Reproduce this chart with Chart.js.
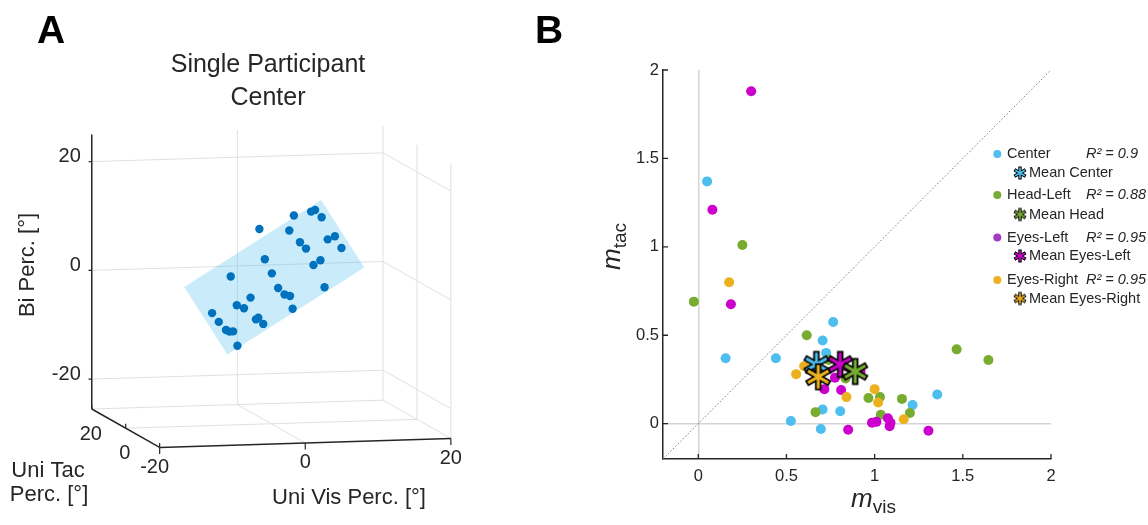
<!DOCTYPE html>
<html>
<head>
<meta charset="utf-8">
<script src="https://cdn.jsdelivr.net/npm/chart.js@4.4.1/dist/chart.umd.min.js"></script>
<style>
  body { margin: 0; background: #fff; width: 1148px; height: 525px; overflow: hidden; position: relative; }
  canvas { position: absolute; top: 0; }
  #chartA { left: 0; }
  #chartB { left: 520px; }
</style>
</head>
<body>
<canvas id="chartA" width="520" height="525"></canvas>
<canvas id="chartB" width="628" height="525"></canvas>
<script>
const FONT = '"Liberation Sans", Arial, sans-serif';
Chart.defaults.font.family = FONT;
Chart.defaults.color = '#262626';

// ---------- panel A data (single participant, center) ----------
const visLim = [-20, 20], tacLim = [-20, 20], biLim = [-25.5, 25];
const visTicks = [-20, 0, 20], tacTicks = [-20, 0, 20], biTicks = [-20, 0, 20];

const visVals = [2.0, 6.2, 8.1, 8.6, 8.8, 4.8, 5.1, 5.3, 8.0, 8.9, 8.8, 6.0, 5.0, 0.6, 0.4, -3.8, 0.1,
                 0.3, 0.8, 4.7, 0.2, -3.2, -5.0, -4.5, -7.9, -7.8, -7.6, -7.4, -7.0, -4.0, -3.7, -3.6, -7.5];
const tacVals = [15.6, 13.3, 11.3, 11.1, 8.1, 10.0, 5.0, 2.3, 1.1, 0.7, -3.6, -3.2, -3.4, 6.4, 1.4, 7.6, -3.6,
                 -6.5, -7.6, -11.2, -11.7, -1.5, -1.1, -3.2, 1.0, -2.5, -5.9, -7.1, -7.5, -8.1, -8.2, -10.7, -12.2];
const biVals  = [7.5, 10.2, 11.2, 11.5, 10.7, 8.1, 6.8, 6.1, 7.9, 8.5, 7.1, 4.9, 4.1, 3.6, 1.9, 0.4, 0.1,
                 -0.6, -0.7, 1.4, -2.3, -1.9, -3.3, -3.5, -5.0, -6.0, -6.9, -7.0, -6.9, -4.7, -4.4, -5.1, -8.7];

// fitted plane bi = b0 + bVis*vis + bTac*tac over the data range
const planeVis = [-9.0, 9.8], planeTac = [-12.75, 12.75];
const planeCoef = [1.1, 0.81, 0.31];

// ---------- panel B data (slopes per participant) ----------
const groups = ['Center', 'Head-Left', 'Eyes-Left', 'Eyes-Right'];
const meanNames = ['Mean Center', 'Mean Head', 'Mean Eyes-Left', 'Mean Eyes-Right'];
const rSquared = ['0.9', '0.88', '0.95', '0.95'];

const centerVis = [0.05, 0.155, 0.44, 0.525, 0.695, 0.705, 0.805, 0.725, 0.705, 0.765, 1.355, 1.215, 0.67];
const centerTac = [1.37, 0.37, 0.37, 0.015, -0.03, 0.08, 0.07, 0.40, 0.47, 0.575, 0.165, 0.105, 0.32];
const headVis = [-0.025, 0.25, 0.615, 0.665, 0.965, 1.03, 1.035, 1.155, 1.20, 1.465, 1.645, 0.74, 0.835];
const headTac = [0.69, 1.01, 0.50, 0.065, 0.145, 0.15, 0.05, 0.14, 0.06, 0.42, 0.36, 0.36, 0.255];
const eyesLVis = [0.30, 0.08, 0.185, 0.715, 0.81, 0.775, 0.92, 0.85, 0.985, 1.01, 1.075, 1.09, 1.085, 1.305];
const eyesLTac = [1.88, 1.21, 0.675, 0.195, 0.19, 0.26, 0.295, -0.035, 0.005, 0.01, 0.03, 0.005, -0.015, -0.04];
const eyesRVis = [0.175, 0.60, 0.555, 0.84, 1.0, 1.02, 1.165];
const eyesRTac = [0.80, 0.325, 0.28, 0.15, 0.195, 0.12, 0.025];

const meanVis = [0.67, 0.89, 0.805, 0.68];
const meanTac = [0.335, 0.295, 0.335, 0.265];

const xTicks = [0, 0.5, 1, 1.5, 2];
const yTicks = [0, 0.5, 1, 1.5, 2];
const diagLine = [-0.2, 2];

const colors = ['#4DBEEE', '#77AC30', '#CC00CC', '#EDB120'];
const legendDot = ['#4DBEEE', '#77AC30', '#A23BC4', '#EDB120'];

// ---------- panel A: 3D box seen through a fixed view ----------
// screen shift per data unit along each axis
const view = { origin: [271.5, 285.5], vis: [7.4, -0.225], tac: [-1.725, -0.975], bi: [0, -5.525] };
function proj(v, t, b) {
  return {
    x: view.origin[0] + v * view.vis[0] + t * view.tac[0] + b * view.bi[0],
    y: view.origin[1] + v * view.vis[1] + t * view.tac[1] + b * view.bi[1]
  };
}
function seg(a, b, color, width, order) {
  return { data: [proj(...a), proj(...b)], showLine: true, borderColor: color, borderWidth: width,
           pointRadius: 0, pointHoverRadius: 0, order: order, clip: false };
}

const gridCol = '#e0e0e0';
const dsA = [];
const [v0, v1] = visLim, [t0, t1] = tacLim, [b0, b1] = biLim;
biTicks.forEach(b => {
  dsA.push(seg([v0, t1, b], [v1, t1, b], gridCol, 1, 100));
  dsA.push(seg([v1, t1, b], [v1, t0, b], gridCol, 1, 100));
});
dsA.push(seg([0, t1, b0], [0, t1, b1], gridCol, 1, 100));
dsA.push(seg([v1, t1, b0], [v1, t1, b1], gridCol, 1, 100));
dsA.push(seg([v1, 0, b0], [v1, 0, b1], gridCol, 1, 100));
dsA.push(seg([v1, t0, b0], [v1, t0, b1], gridCol, 1, 100));
dsA.push(seg([v0, 0, b0], [v1, 0, b0], gridCol, 1, 100));
dsA.push(seg([0, t0, b0], [0, t1, b0], gridCol, 1, 100));
dsA.push(seg([v0, t1, b0], [v1, t1, b0], gridCol, 1, 100));
dsA.push(seg([v1, t0, b0], [v1, t1, b0], gridCol, 1, 100));

const planeBi = (v, t) => planeCoef[0] + planeCoef[1] * v + planeCoef[2] * t;
const planeCorners = [[planeVis[0], planeTac[1]], [planeVis[1], planeTac[1]],
                      [planeVis[1], planeTac[0]], [planeVis[0], planeTac[0]]];
dsA.push({
  data: planeCorners.map(([v, t]) => proj(v, t, planeBi(v, t))),
  showLine: true, fill: 'shape', backgroundColor: 'rgba(77,190,238,0.3)', borderWidth: 0,
  pointRadius: 0, order: 50, clip: false
});
dsA.push({
  data: visVals.map((v, i) => proj(v, tacVals[i], biVals[i])),
  backgroundColor: '#0072BD', borderWidth: 0, pointRadius: 4.2, order: 10, clip: false
});

const axCol = '#262626';
dsA.push(seg([v0, t1, b0], [v0, t1, b1], axCol, 1.5, 5));
dsA.push(seg([v0, t1, b0], [v0, t0, b0], axCol, 1.5, 5));
dsA.push(seg([v0, t0, b0], [v1, t0, b0], axCol, 1.5, 5));
biTicks.forEach(b => dsA.push(seg([v0, t1, b], [v0 - 0.45, t1, b], axCol, 1.2, 5)));
tacTicks.forEach(t => dsA.push(seg([v0, t, b0], [v0, t, b0 + 0.8], axCol, 1.2, 5)));
visTicks.forEach(v => dsA.push(seg([v, t0, b0], [v, t0, b0 - 1.2], axCol, 1.2, 5)));

const labelsA = {
  id: 'labelsA',
  afterDraw(chart) {
    const ctx = chart.ctx, sx = chart.scales.x, sy = chart.scales.y;
    const at = p => [sx.getPixelForValue(p.x), sy.getPixelForValue(p.y)];
    ctx.save();
    ctx.fillStyle = '#262626';
    ctx.font = '20px ' + FONT;
    ctx.textBaseline = 'middle';
    ctx.textAlign = 'right';
    biTicks.forEach(b => { const [x, y] = at(proj(v0, t1, b)); ctx.fillText(String(b), x - 11, y - 5); });
    ctx.textAlign = 'center';
    tacTicks.filter(t => t > t0).forEach(t => { const [x, y] = at(proj(v0, t, b0)); ctx.fillText(String(t), x - 1, y + 25); });
    visTicks.forEach(v => { const [x, y] = at(proj(v, t0, b0)); ctx.fillText(String(v), x - (v === v0 ? 5 : 0), y + 20); });

    ctx.textBaseline = 'alphabetic';
    ctx.font = '22px ' + FONT;
    ctx.fillText('Uni Vis Perc. [°]', 349, 504);
    ctx.fillText('Uni Tac', 48, 477);
    ctx.fillText('Perc. [°]', 49, 501);
    ctx.save();
    ctx.translate(34, 265);
    ctx.rotate(-Math.PI / 2);
    ctx.fillText('Bi Perc. [°]', 0, 0);
    ctx.restore();

    ctx.font = '25px ' + FONT;
    ctx.fillText('Single Participant', 268, 72);
    ctx.fillText('Center', 268, 105);

    ctx.textAlign = 'left';
    ctx.fillStyle = '#000';
    ctx.font = 'bold 39px ' + FONT;
    ctx.fillText('A', 37, 43);
    ctx.restore();
  }
};

new Chart(document.getElementById('chartA'), {
  type: 'scatter',
  data: { datasets: dsA },
  options: {
    responsive: false, animation: false, events: [],
    layout: { padding: 0 },
    scales: {
      x: { type: 'linear', min: 0, max: 520, display: false },
      y: { type: 'linear', min: 0, max: 525, reverse: true, display: false }
    },
    plugins: { legend: { display: false }, tooltip: { enabled: false } }
  },
  plugins: [labelsA]
});

// ---------- panel B ----------
function makeStar(color, size, r, outer, inner) {
  const c = document.createElement('canvas');
  c.width = c.height = size;
  const g = c.getContext('2d');
  const m = size / 2;
  const angles = [90, 30, -30].map(a => a * Math.PI / 180);
  const pass = (len, w, col) => {
    g.strokeStyle = col; g.lineWidth = w; g.lineCap = 'butt';
    g.beginPath();
    angles.forEach(a => {
      g.moveTo(m + len * Math.cos(a), m - len * Math.sin(a));
      g.lineTo(m - len * Math.cos(a), m + len * Math.sin(a));
    });
    g.stroke();
  };
  pass(r, outer, '#000');
  pass(r - (outer - inner) / 2, inner, color);
  return c;
}

const visSets = [centerVis, headVis, eyesLVis, eyesRVis];
const tacSets = [centerTac, headTac, eyesLTac, eyesRTac];
const bigStars = colors.map(c => makeStar(c, 32, 13.5, 6.5, 3));
const smallStars = colors.map(c => makeStar(c, 16, 6.5, 3.4, 1.6));

const dsB = [{
  data: diagLine.map(v => ({ x: v, y: v })), showLine: true, borderColor: '#707070', borderWidth: 0.9,
  borderDash: [1.5, 2], pointRadius: 0, order: 100
}];
groups.forEach((g, k) => {
  dsB.push({
    label: g, data: visSets[k].map((x, i) => ({ x: x, y: tacSets[k][i] })),
    backgroundColor: colors[k], borderWidth: 0, pointRadius: 5, order: 40 - k, clip: false
  });
});
const starOrder = [20, 18, 19, 17];
groups.forEach((g, k) => {
  dsB.push({
    label: meanNames[k], data: [{ x: meanVis[k], y: meanTac[k] }],
    pointStyle: bigStars[k], pointRadius: 14, order: starOrder[k], clip: false
  });
});

const decorB = {
  id: 'decorB',
  afterDraw(chart) {
    const ctx = chart.ctx, sx = chart.scales.x, sy = chart.scales.y, a = chart.chartArea;
    ctx.save();
    ctx.strokeStyle = '#262626';
    ctx.lineWidth = 1.3;
    ctx.beginPath();
    xTicks.forEach(v => { const p = sx.getPixelForValue(v); ctx.moveTo(p, a.bottom); ctx.lineTo(p, a.bottom - 5); });
    yTicks.forEach(v => { const p = sy.getPixelForValue(v); ctx.moveTo(a.left, p); ctx.lineTo(a.left + 5, p); });
    ctx.stroke();

    ctx.fillStyle = '#262626';
    ctx.textBaseline = 'alphabetic';
    ctx.textAlign = 'left';
    // x axis title m_vis
    ctx.font = 'italic 26px ' + FONT;
    const mw = ctx.measureText('m').width;
    ctx.fillText('m', 331, 507);
    ctx.font = '19px ' + FONT;
    ctx.fillText('vis', 331 + mw, 513);
    // y axis title m_tac
    ctx.save();
    ctx.translate(100, 270);
    ctx.rotate(-Math.PI / 2);
    ctx.font = 'italic 26px ' + FONT;
    ctx.fillText('m', 0, 0);
    ctx.font = '19px ' + FONT;
    ctx.fillText('tac', mw, 6);
    ctx.restore();

    // legend
    const rows = [154, 195, 237.5, 280], sub = [173, 214.5, 256, 298.5];
    ctx.textBaseline = 'middle';
    groups.forEach((g, k) => {
      ctx.fillStyle = legendDot[k];
      ctx.beginPath(); ctx.arc(477.3, rows[k], 4, 0, Math.PI * 2); ctx.fill();
      ctx.fillStyle = '#262626';
      ctx.font = '14.5px ' + FONT;
      ctx.fillText(g, 487, rows[k]);
      ctx.fillText(meanNames[k], 509, sub[k]);
      ctx.font = 'italic 14.5px ' + FONT;
      ctx.fillText('R² = ' + rSquared[k], 566, rows[k]);
      ctx.drawImage(smallStars[k], 500 - 8, sub[k] - 8);
    });

    ctx.fillStyle = '#000';
    ctx.textBaseline = 'alphabetic';
    ctx.font = 'bold 39px ' + FONT;
    ctx.fillText('B', 15, 43);
    ctx.restore();
  }
};

new Chart(document.getElementById('chartB'), {
  type: 'scatter',
  data: { datasets: dsB },
  options: {
    responsive: false, animation: false, events: [],
    layout: { padding: { top: 70, right: 97, left: 0, bottom: 0 } },
    scales: {
      x: {
        type: 'linear', min: -0.2, max: 2,
        afterBuildTicks: s => { s.ticks = xTicks.map(v => ({ value: v })); },
        afterFit: s => { s.height = 66; },
        ticks: { autoSkip: false, maxRotation: 0, padding: 8, font: { size: 16.5 }, color: '#262626', callback: v => String(v) },
        grid: { drawTicks: false, lineWidth: 1.5, color: c => (c.tick && c.tick.value === 0 ? '#d4d4d4' : 'rgba(0,0,0,0)') },
        border: { display: true, color: '#262626', width: 1.5 }
      },
      y: {
        type: 'linear', min: -0.2, max: 2,
        afterBuildTicks: s => { s.ticks = yTicks.map(v => ({ value: v })); },
        afterFit: s => { s.width = 143; },
        ticks: { autoSkip: false, padding: 4, font: { size: 16.5 }, color: '#262626', callback: v => String(v) },
        grid: { drawTicks: false, lineWidth: 1.5, color: c => (c.tick && c.tick.value === 0 ? '#d4d4d4' : 'rgba(0,0,0,0)') },
        border: { display: true, color: '#262626', width: 1.5 }
      }
    },
    plugins: { legend: { display: false }, tooltip: { enabled: false } }
  },
  plugins: [decorB]
});
</script>
</body>
</html>
